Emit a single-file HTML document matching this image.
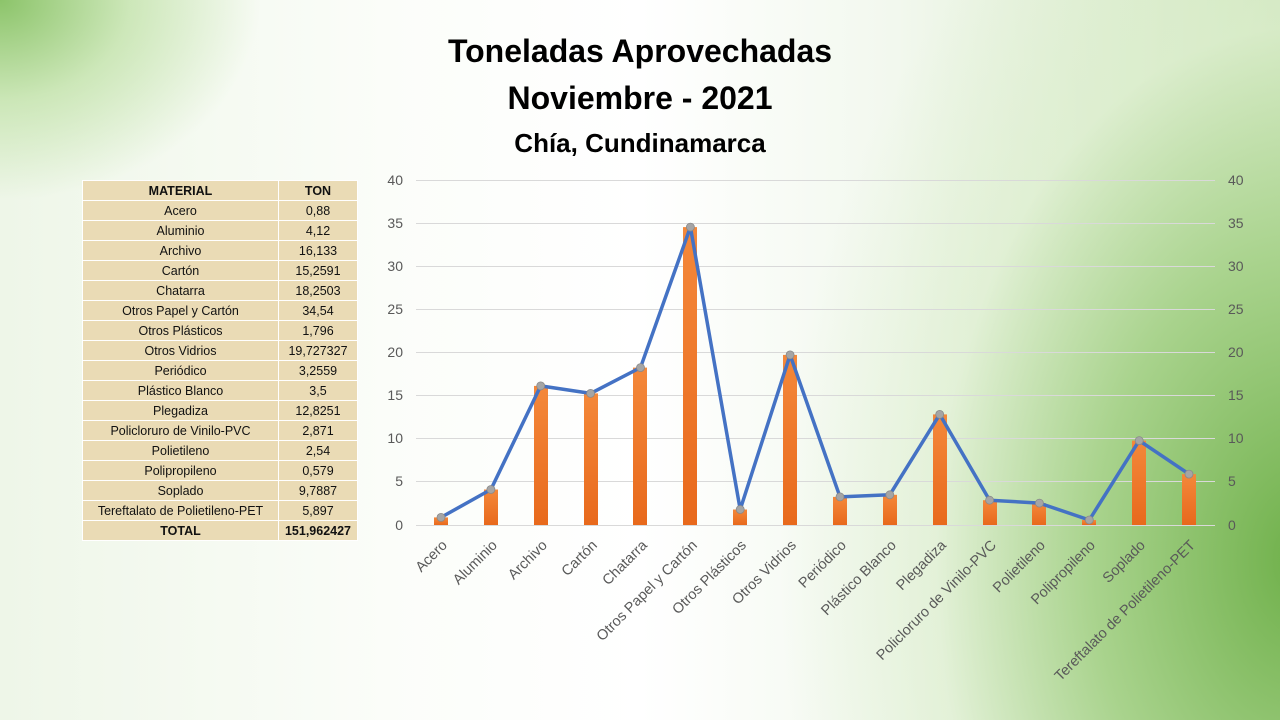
<!DOCTYPE html>
<html><head><meta charset="utf-8"><style>
body{margin:0;width:1280px;height:720px;overflow:hidden;font-family:"Liberation Sans",sans-serif;
background:
radial-gradient(ellipse 260px 200px at 0px 0px,#8cc46a 0%,rgba(180,220,150,0.6) 50%,rgba(255,255,255,0) 100%),
radial-gradient(ellipse 520px 760px at 1300px 560px,#6fb04a 0%,#a9d38d 40%,rgba(220,238,205,0.6) 70%,rgba(255,255,255,0) 100%),
linear-gradient(90deg,#eef6e8 0%,#fbfdf9 30%,#ffffff 50%,#f2f8ee 70%,#cfe6bd 100%);}
.t{position:absolute;left:0;width:1280px;text-align:center;font-weight:bold;color:#000}
table{position:absolute;left:82px;top:180px;border-collapse:collapse;font-size:12.5px;background:#ecdcb8}
td{height:19px;padding:0;text-align:center;border:1px solid #fff;color:#111;background:#eadbb5}
</style></head><body>
<div class="t" style="top:33px;font-size:32px;left:0">Toneladas Aprovechadas</div>
<div class="t" style="top:80px;font-size:32px">Noviembre - 2021</div>
<div class="t" style="top:128px;font-size:26px">Chía, Cundinamarca</div>
<table>
<tr><td style="width:195px;font-weight:bold">MATERIAL</td><td style="width:78px;font-weight:bold">TON</td></tr>
<tr><td>Acero</td><td>0,88</td></tr>
<tr><td>Aluminio</td><td>4,12</td></tr>
<tr><td>Archivo</td><td>16,133</td></tr>
<tr><td>Cartón</td><td>15,2591</td></tr>
<tr><td>Chatarra</td><td>18,2503</td></tr>
<tr><td>Otros Papel y Cartón</td><td>34,54</td></tr>
<tr><td>Otros Plásticos</td><td>1,796</td></tr>
<tr><td>Otros Vidrios</td><td>19,727327</td></tr>
<tr><td>Periódico</td><td>3,2559</td></tr>
<tr><td>Plástico Blanco</td><td>3,5</td></tr>
<tr><td>Plegadiza</td><td>12,8251</td></tr>
<tr><td>Policloruro de Vinilo-PVC</td><td>2,871</td></tr>
<tr><td>Polietileno</td><td>2,54</td></tr>
<tr><td>Polipropileno</td><td>0,579</td></tr>
<tr><td>Soplado</td><td>9,7887</td></tr>
<tr><td>Tereftalato de Polietileno-PET</td><td>5,897</td></tr>
<tr><td style="font-weight:bold">TOTAL</td><td style="font-weight:bold">151,962427</td></tr>
</table>
<svg width="1280" height="720" style="position:absolute;left:0;top:0">
<defs><linearGradient id="b" x1="0" y1="0" x2="0" y2="1"><stop offset="0" stop-color="#f4883a"/><stop offset="1" stop-color="#e8691c"/></linearGradient></defs>
<g stroke="#d9d9d9" stroke-width="1">
<line x1="416" x2="1215" y1="180.5" y2="180.5"/><line x1="416" x2="1215" y1="223.5" y2="223.5"/>
<line x1="416" x2="1215" y1="266.5" y2="266.5"/><line x1="416" x2="1215" y1="309.5" y2="309.5"/>
<line x1="416" x2="1215" y1="352.5" y2="352.5"/><line x1="416" x2="1215" y1="395.5" y2="395.5"/>
<line x1="416" x2="1215" y1="438.5" y2="438.5"/><line x1="416" x2="1215" y1="481.5" y2="481.5"/>
<line x1="416" x2="1215" y1="525.5" y2="525.5"/></g>
<g font-size="14" fill="#595959" text-anchor="end">
<text x="403" y="185">40</text><text x="403" y="228">35</text><text x="403" y="271">30</text><text x="403" y="314">25</text><text x="403" y="357">20</text><text x="403" y="400">15</text><text x="403" y="443">10</text><text x="403" y="486">5</text><text x="403" y="530">0</text></g>
<g font-size="14" fill="#595959" text-anchor="start">
<text x="1228" y="185">40</text><text x="1228" y="228">35</text><text x="1228" y="271">30</text><text x="1228" y="314">25</text><text x="1228" y="357">20</text><text x="1228" y="400">15</text><text x="1228" y="443">10</text><text x="1228" y="486">5</text><text x="1228" y="530">0</text></g>
<g fill="url(#b)">
<rect x="434" y="517.4" width="14" height="7.6"/><rect x="484" y="489.5" width="14" height="35.5"/>
<rect x="534" y="385.9" width="14" height="139.1"/><rect x="584" y="393.4" width="14" height="131.6"/>
<rect x="633" y="367.6" width="14" height="157.4"/><rect x="683" y="227.1" width="14" height="297.9"/>
<rect x="733" y="509.5" width="14" height="15.5"/><rect x="783" y="354.9" width="14" height="170.1"/>
<rect x="833" y="496.9" width="14" height="28.1"/><rect x="883" y="494.8" width="14" height="30.2"/>
<rect x="933" y="414.4" width="14" height="110.6"/><rect x="983" y="500.2" width="14" height="24.8"/>
<rect x="1032" y="503.1" width="14" height="21.9"/><rect x="1082" y="520" width="14" height="5"/>
<rect x="1132" y="440.6" width="14" height="84.4"/><rect x="1182" y="474.1" width="14" height="50.9"/></g>
<polyline fill="none" stroke="#4472c4" stroke-width="3.5" stroke-linejoin="round" points="441,517.4 490.9,489.5 540.7,385.9 590.6,393.4 640.5,367.6 690.4,227.1 740.2,509.5 790.1,354.9 840,496.9 889.8,494.8 939.7,414.4 989.6,500.2 1039.4,503.1 1089.3,520 1139.2,440.6 1189,474.1"/>
<g fill="#a5a5a5" stroke="#8a8a8a" stroke-width="0.8">
<circle cx="441" cy="517.4" r="4"/><circle cx="490.9" cy="489.5" r="4"/><circle cx="540.7" cy="385.9" r="4"/><circle cx="590.6" cy="393.4" r="4"/><circle cx="640.5" cy="367.6" r="4"/><circle cx="690.4" cy="227.1" r="4"/><circle cx="740.2" cy="509.5" r="4"/><circle cx="790.1" cy="354.9" r="4"/><circle cx="840" cy="496.9" r="4"/><circle cx="889.8" cy="494.8" r="4"/><circle cx="939.7" cy="414.4" r="4"/><circle cx="989.6" cy="500.2" r="4"/><circle cx="1039.4" cy="503.1" r="4"/><circle cx="1089.3" cy="520" r="4"/><circle cx="1139.2" cy="440.6" r="4"/><circle cx="1189" cy="474.1" r="4"/></g>
<g font-size="14.5" fill="#595959" text-anchor="end">
<text transform="translate(448,546) rotate(-45)">Acero</text>
<text transform="translate(498,546) rotate(-45)">Aluminio</text>
<text transform="translate(548,546) rotate(-45)">Archivo</text>
<text transform="translate(598,546) rotate(-45)">Cartón</text>
<text transform="translate(648,546) rotate(-45)">Chatarra</text>
<text transform="translate(698,546) rotate(-45)">Otros Papel y Cartón</text>
<text transform="translate(747,546) rotate(-45)">Otros Plásticos</text>
<text transform="translate(797,546) rotate(-45)">Otros Vidrios</text>
<text transform="translate(847,546) rotate(-45)">Periódico</text>
<text transform="translate(897,546) rotate(-45)">Plástico Blanco</text>
<text transform="translate(947,546) rotate(-45)">Plegadiza</text>
<text transform="translate(997,546) rotate(-45)">Policloruro de Vinilo-PVC</text>
<text transform="translate(1046,546) rotate(-45)">Polietileno</text>
<text transform="translate(1096,546) rotate(-45)">Polipropileno</text>
<text transform="translate(1146,546) rotate(-45)">Soplado</text>
<text transform="translate(1196,546) rotate(-45)">Tereftalato de Polietileno-PET</text>
</g></svg>
</body></html>
